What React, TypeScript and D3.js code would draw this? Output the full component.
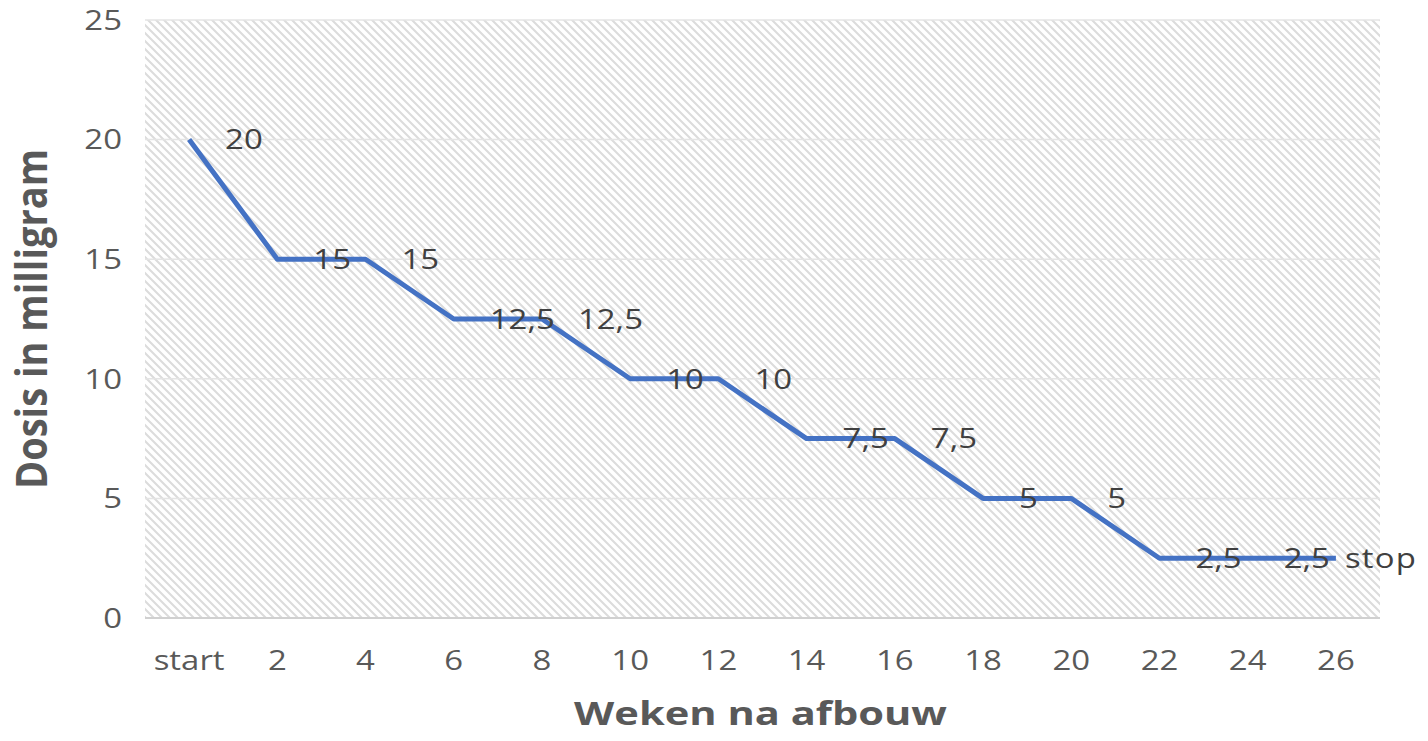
import React from "react";
import * as d3 from "d3";

const categories = ["start", "2", "4", "6", "8", "10", "12", "14", "16", "18", "20", "22", "24", "26"];
const doses = [20, 15, 15, 12.5, 12.5, 10, 10, 7.5, 7.5, 5, 5, 2.5, 2.5, 2.5];
const dataLabels = ["20", "15", "15", "12,5", "12,5", "10", "10", "7,5", "7,5", "5", "5", "2,5", "2,5", "stop"];
const yTicks = [0, 5, 10, 15, 20, 25];

const width = 1428;
const height = 741;
const margin = { top: 20, right: 48, bottom: 123, left: 145 };
const font = "'Open Sans', 'DejaVu Sans', sans-serif";
// the original picture is stretched sideways, so text is widened too
const stretch = 1.22;

function Label({ x, y, anchor = "start", size = 27, fill = "#595959", sx = stretch, children, ...rest }: any) {
  return (
    <text
      transform={`translate(${x},${y}) scale(${sx},1)`}
      dy="0.36em"
      textAnchor={anchor}
      fontFamily={font}
      fontSize={size}
      fill={fill}
      {...rest}
    >
      {children}
    </text>
  );
}

export default function App() {
  const x = d3
    .scaleBand()
    .domain(categories)
    .range([margin.left, width - margin.right]);
  const y = d3
    .scaleLinear()
    .domain([0, 25])
    .range([height - margin.bottom, margin.top]);

  const cx = (c: string) => (x(c) ?? 0) + x.bandwidth() / 2;

  const line = d3
    .line<number>()
    .x((_, i) => cx(categories[i]))
    .y((d) => y(d));

  const plotLeft = margin.left;
  const plotRight = width - margin.right;

  return (
    <svg
      width={width}
      height={height}
      style={{ position: "absolute", left: 0, top: 0, background: "#fff" }}
    >
      <defs>
        <pattern id="hatch" width="8" height="8" patternUnits="userSpaceOnUse">
          <path d="M-2,-2 L10,10 M-2,6 L2,10 M6,-2 L10,2" stroke="#dcdcdc" strokeWidth="2.1" />
        </pattern>
      </defs>

      {/* plot area hatch */}
      <rect
        x={plotLeft}
        y={y(25)}
        width={plotRight - plotLeft}
        height={y(0) - y(25)}
        fill="url(#hatch)"
      />

      {/* gridlines */}
      {yTicks.map((t) => (
        <line
          key={t}
          x1={plotLeft}
          x2={plotRight}
          y1={y(t)}
          y2={y(t)}
          stroke={t === 0 ? "#d0d0d0" : "#e4e4e4"}
          strokeWidth={t === 0 ? 2 : 1.5}
        />
      ))}

      {/* y tick labels */}
      {yTicks.map((t) => (
        <Label key={t} x={122} y={y(t)} anchor="end">
          {t}
        </Label>
      ))}

      {/* x tick labels */}
      {categories.map((c) => (
        <Label key={c} x={cx(c)} y={660} anchor="middle">
          {c}
        </Label>
      ))}

      {/* series line */}
      <path
        d={line(doses) ?? ""}
        fill="none"
        stroke="#4472C4"
        strokeWidth={5}
        strokeLinejoin="round"
      />

      {/* data labels */}
      {doses.map((d, i) => (
        <Label
          key={i}
          x={cx(categories[i]) + (i === doses.length - 1 ? 9 : 36)}
          y={y(d)}
          fill="#404040"
          letterSpacing={dataLabels[i] === "stop" ? 1 : 0}
        >
          {dataLabels[i]}
        </Label>
      ))}

      {/* axis titles */}
      <text
        transform={`translate(${47},${(y(0) + y(25)) / 2}) scale(1.15,1) rotate(-90)`}
        textAnchor="middle"
        fontFamily={font}
        fontWeight="bold"
        fontSize={38}
        fill="#595959"
      >
        Dosis in milligram
      </text>
      <text
        transform={`translate(${(plotLeft + plotRight) / 2 - 2},${725}) scale(1.3,1)`}
        textAnchor="middle"
        fontFamily={font}
        fontWeight="bold"
        fontSize={32}
        fill="#595959"
      >
        Weken na afbouw
      </text>
    </svg>
  );
}
